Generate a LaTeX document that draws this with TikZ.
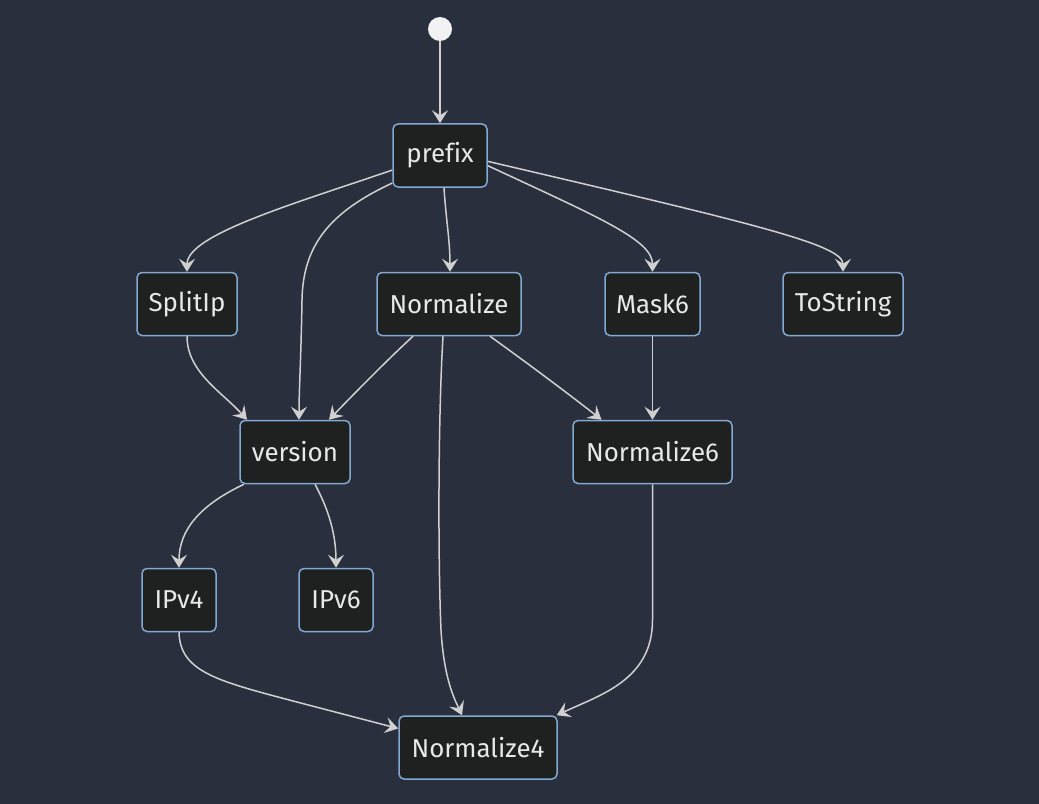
\documentclass[tikz,border=0pt]{standalone}
\usepackage{fontspec}
\setmainfont[Ligatures=NoCommon]{Fira Sans}
\usetikzlibrary{arrows.meta}
\definecolor{bgc}{RGB}{42,47,62}
\definecolor{nodefill}{RGB}{31,32,32}
\definecolor{nodeborder}{RGB}{129,169,212}
\definecolor{txt}{RGB}{232,232,232}
\definecolor{edgec}{RGB}{208,208,208}
\tikzset{
  box/.style={draw=nodeborder, fill=nodefill, line width=1.5bp, rounded corners=5bp,
    text=txt, font=\fontsize{26}{30}\selectfont, inner sep=0pt, minimum height=63bp, anchor=center},
  edge/.style={draw=edgec, line width=1.5bp, -{Stealth[length=13bp,width=16bp,inset=5bp]}},
}
\begin{document}
\begin{tikzpicture}[x=1bp,y=-1bp]
\fill[bgc] (0,0) rectangle (1039,804);
\useasboundingbox (0,0) rectangle (1039,804);
\node[circle, fill=white!95!black, minimum size=24bp, inner sep=0pt] (start) at (440,29) {};
\node[box, minimum width=94bp]  (prefix) at (440,155.5) {prefix};
\node[box, minimum width=100bp] (SplitIp) at (187,304) {SplitIp};
\node[box, minimum width=144bp] (Normalize) at (449,304) {Normalize};
\node[box, minimum width=95bp]  (Mask6) at (652.5,304) {Mask6};
\node[box, minimum width=120bp] (ToString) at (843,304) {ToString};
\node[box, minimum width=110bp] (version) at (295,452) {version};
\node[box, minimum width=159bp] (Normalize6) at (652.5,452) {Normalize6};
\node[box, minimum width=74bp]  (IPv4) at (179,600) {IPv4};
\node[box, minimum width=74bp]  (IPv6) at (336,600) {IPv6};
\node[box, minimum width=158bp] (Normalize4) at (478,747.5) {Normalize4};

\draw[edge] (start) -- (prefix);
\draw[edge] (prefix.197) .. controls (290,205) and (187,235) .. (SplitIp.north);
\draw[edge] (prefix.210) .. controls (330,212) and (303,245) .. (302,300) .. controls (301,360) and (299,390) .. ([xshift=4bp]version.north);
\draw[edge] ([xshift=4bp]prefix.south) .. controls (446,220) and (450,240) .. ([xshift=1bp]Normalize.north);
\draw[edge] (prefix.-12) .. controls (600,218) and (652.5,240) .. (Mask6.north);
\draw[edge] (prefix.-7) .. controls (760,225) and (843,245) .. (ToString.north);
\draw[edge] (SplitIp.south) .. controls (187,372) and (222,392) .. ([xshift=-48bp]version.north);
\draw[edge] ([xshift=-36bp]Normalize.south) .. controls (385,362) and (350,398) .. ([xshift=34bp]version.north);
\draw[edge] ([xshift=-6bp]Normalize.south) .. controls (438,420) and (438,560) .. (441,630) .. controls (444,680) and (455,700) .. ([xshift=-16bp]Normalize4.north);
\draw[edge] ([xshift=41bp]Normalize.south) .. controls (530,365) and (570,395) .. ([xshift=-51bp]Normalize6.north);
\draw[edge] (Mask6.south) -- (Normalize6.north);
\draw[edge] ([xshift=-51bp]version.south) .. controls (200,505) and (179,530) .. (IPv4.north);
\draw[edge] ([xshift=20bp]version.south) .. controls (326,505) and (336,530) .. (IPv6.north);
\draw[edge] (IPv4.south) .. controls (180,672) and (218,681) .. (293,701) -- ([yshift=19bp]Normalize4.west);
\draw[edge] (Normalize6.south) -- (652.5,620) .. controls (652.5,680) and (600,695) .. ([xshift=-1bp]Normalize4.north east);
\end{tikzpicture}
\end{document}
